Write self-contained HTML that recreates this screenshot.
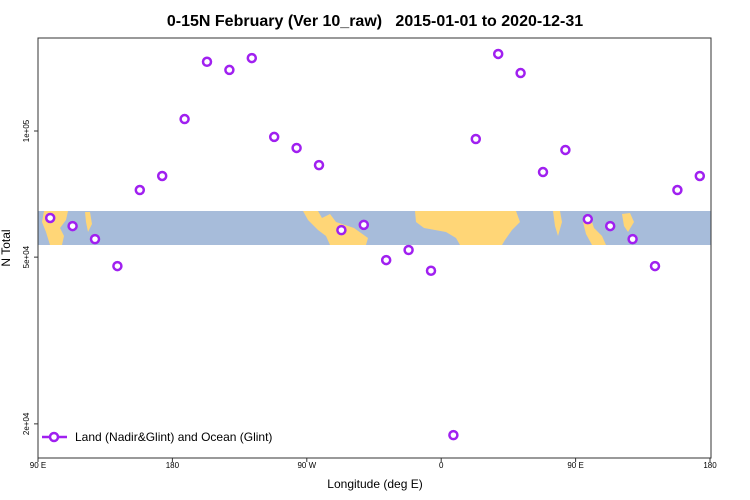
<!DOCTYPE html>
<html><head><meta charset="utf-8"><style>
body{margin:0;background:#fff}
svg{display:block;font-family:"Liberation Sans",sans-serif}
</style></head><body>
<svg id="chart" width="750" height="500">
<text x="375" y="26" text-anchor="middle" font-size="16" font-weight="bold" style="white-space:pre">0-15N February (Ver 10_raw)   2015-01-01 to 2020-12-31</text>
<g>
<rect x="38" y="211" width="673" height="34" fill="#a7bcda"/>
<g fill="#ffd677">
<polygon points="44,211 68,211 66,220 60,228 64,236 62,245 50,245 46,232 42,222"/>
<polygon points="85,212 90,212 92,224 88,232 86,222"/>
<polygon points="303,211 318,211 322,218 330,214 336,222 354,228 368,238 366,245 330,245 326,236 318,230 308,220"/>
<polygon points="415,211 516,211 520,222 512,230 505,240 502,245 460,245 456,238 446,232 424,228 416,222"/>
<polygon points="553,211 560,211 562,222 558,236 555,226"/>
<polygon points="583,222 590,216 594,228 602,236 606,245 592,245 586,234"/>
<polygon points="622,214 630,213 634,222 628,232 624,226"/>
</g>
</g>
<rect x="38" y="38" width="673" height="420" fill="none" stroke="#333" stroke-width="1"/>
<g id="xaxis"></g>
<g id="yaxis"></g>
<text x="375" y="488" text-anchor="middle" font-size="12">Longitude (deg E)</text>
<text transform="translate(10,248) rotate(-90)" text-anchor="middle" font-size="12">N Total</text>
<g id="series"></g>
<g>
<line x1="42" y1="437" x2="67" y2="437" stroke="#a020f0" stroke-width="2.5"/>
<circle cx="54" cy="437" r="4" fill="#fff" stroke="#a020f0" stroke-width="2.5"/>
<text x="75" y="441" font-size="12">Land (Nadir&amp;Glint) and Ocean (Glint)</text>
</g>
</svg>
<script>
const lons=[97.5,112.5,127.5,142.5,157.5,172.5,187.5,202.5,217.5,232.5,247.5,262.5,277.5,292.5,307.5,322.5,337.5,352.5,367.5,382.5,397.5,412.5,427.5,442.5,457.5,472.5,487.5,502.5,517.5,532.5];
const values=[62000,59300,55200,47600,72300,78100,106800,146300,139900,149300,96800,91100,82900,58000,59700,49200,52000,46400,18800,95700,152700,137500,79800,90100,61600,59300,55200,47600,72300,78100];
const xTickLabels=["90 E","180","90 W","0","90 E","180"];
const yTickVals=[20000,50000,100000];
const yTickLabels=["2e+04","5e+04","1e+05"];
const NS="http://www.w3.org/2000/svg";
function ys(v){return 131+(5-Math.log10(v))*419;}
function px(l){return 39+(l-90)*(134.4/90);}
function mk(t,a,p){const e=document.createElementNS(NS,t);for(const k in a)e.setAttribute(k,a[k]);p.appendChild(e);return e;}
const xa=document.getElementById('xaxis');
xTickLabels.forEach((lab,i)=>{const x=38+i*134.4;
const t=mk('line',{x1:x,y1:458,x2:x,y2:462,stroke:'#333'},xa);


const tx=mk('text',{x:x,y:468,'text-anchor':'middle','font-size':'8'},xa);tx.textContent=lab;

});
const ya=document.getElementById('yaxis');
yTickVals.forEach((v,i)=>{const y=ys(v);
const t=mk('line',{x1:34,y1:y,x2:38,y2:y,stroke:'#333'},ya);


const tx=mk('text',{x:29,y:y,'text-anchor':'middle','font-size':'8',transform:`rotate(-90 29 ${y})`},ya);tx.textContent=yTickLabels[i];

});
const s=document.getElementById('series');
values.forEach((v,i)=>{const c=mk('circle',{cx:px(lons[i]),cy:ys(v),r:4,fill:'#fff',stroke:'#a020f0','stroke-width':2.5},s);

});
</script>
</body></html>
